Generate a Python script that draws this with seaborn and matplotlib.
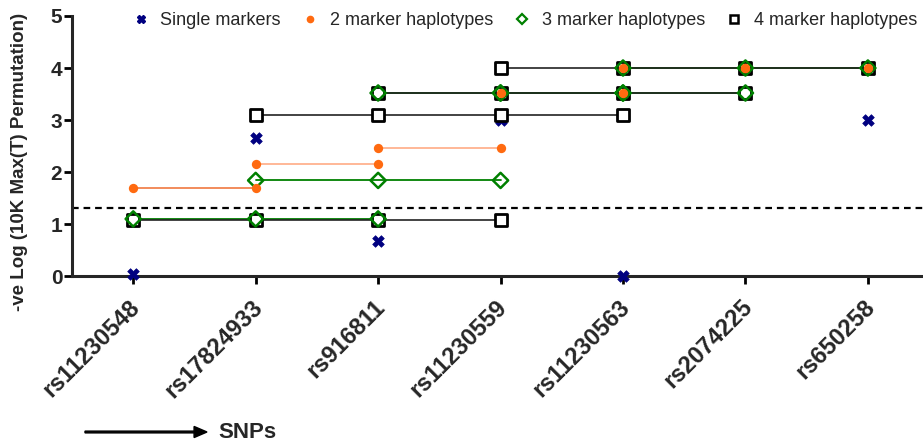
import matplotlib
matplotlib.use("Agg")
import matplotlib.pyplot as plt
import matplotlib.transforms as mtransforms
from matplotlib.lines import Line2D
import pandas as pd
import seaborn as sns

# ---- data ----
snps = ["rs11230548", "rs17824933", "rs916811", "rs11230559",
        "rs11230563", "rs2074225", "rs650258"]
single_markers = [0.05, 2.65, 0.68, 3.00, 0.00, 3.52, 3.00]
hap2_values = [1.69, 2.15, 2.47, 3.52, 4.00, 4.00]   # window start = index
hap3_values = [1.10, 1.84, 3.52, 3.52, 4.00]
hap4_values = [1.07, 3.10, 3.52, 4.00]
threshold = 1.301
series_names = ["Single markers", "2 marker haplotypes",
                "3 marker haplotypes", "4 marker haplotypes"]

sns.set_style("ticks")
plt.rcParams["font.family"] = ["Liberation Sans", "DejaVu Sans"]

rows = []
for k, vals in ((2, hap2_values), (3, hap3_values), (4, hap4_values)):
    for start, v in enumerate(vals):
        for j in range(k):
            rows.append({"pos": start + j, "value": v, "k": k,
                         "hap": f"{k}-{start}"})
hap = pd.DataFrame(rows)
single = pd.DataFrame({"pos": range(len(snps)), "value": single_markers})

fig = plt.figure(figsize=(9.23, 4.44), dpi=100)
ax = fig.add_axes([0.078, 0.378, 0.922, 0.586])

navy = "#000080"
orange = "#ff6a10"
green = "#008000"

# lines
h2 = hap[hap.k == 2]
pal2 = {f"2-{i}": c for i, c in enumerate(
    ["#f07840", "#ffab85", "#ffab85", "#ffab85", "#ffab85", "#ffab85"])}
sns.lineplot(data=h2, x="pos", y="value", hue="hap", palette=pal2,
             units="hap", estimator=None, lw=1.2, legend=False, ax=ax)
sns.lineplot(data=hap[hap.k == 3], x="pos", y="value", units="hap",
             estimator=None, color=green, lw=1.3, legend=False, ax=ax)
sns.lineplot(data=hap[hap.k == 4], x="pos", y="value", units="hap",
             estimator=None, color="#222222", lw=1.2, legend=False, ax=ax)

ax.axhline(threshold, color="black", ls=(0, (3, 2.2)), lw=1.6, zorder=1)

# markers
sns.scatterplot(data=single, x="pos", y="value", marker="X", s=70,
                color=navy, edgecolor=navy, linewidth=0.5, ax=ax, zorder=3,
                clip_on=False)
sns.scatterplot(data=hap[hap.k == 4], x="pos", y="value", marker="s", s=85,
                facecolor="white", edgecolor="black", linewidth=2.0,
                ax=ax, zorder=4)
sns.scatterplot(data=hap[hap.k == 3], x="pos", y="value", marker="D", s=60,
                facecolor="none", edgecolor=green, linewidth=1.8,
                ax=ax, zorder=5)
sns.scatterplot(data=h2, x="pos", y="value", marker="o", s=45,
                color=orange, edgecolor=orange, linewidth=0, ax=ax, zorder=6)

ax.set_xlim(-0.5, 6.45)
ax.set_ylim(0, 5)
ax.set_xticks(range(len(snps)))
ax.set_xticklabels(snps, rotation=45, ha="right", va="top",
                   rotation_mode="anchor", fontsize=17, fontweight="bold")
ax.set_yticks([0, 1, 2, 3, 4, 5])
ax.set_yticklabels(["0", "1", "2", "3", "4", "5"], fontsize=15,
                   fontweight="bold")
ax.set_xlabel("")
ax.set_ylabel("-ve Log (10K Max(T) Permutation)", fontsize=13.5,
              fontweight="bold")
ax.yaxis.set_label_coords(-0.052, 0.44)
sns.despine(ax=ax)
for s in ("left", "bottom"):
    ax.spines[s].set_linewidth(2.2)
ax.tick_params(axis="both", width=2, length=6, color="black")
ax.tick_params(axis="y", pad=1)
ax.tick_params(axis="x", pad=8)

handles = [
    Line2D([], [], ls="none", marker="X", color=navy, ms=6),
    Line2D([], [], ls="none", marker="o", color=orange, ms=4.5),
    Line2D([], [], ls="none", marker="D", mfc="none", mec=green, ms=5.5,
           mew=1.6),
    Line2D([], [], ls="none", marker="s", mfc="white", mec="black", ms=6,
           mew=1.8),
]
ax.legend(handles, series_names, loc="center", ncol=4, frameon=False,
          bbox_to_anchor=(0.568, 0.954), bbox_transform=fig.transFigure,
          fontsize=13, handlelength=1.0, handletextpad=0.6,
          columnspacing=1.1, borderaxespad=0)

fig.patches.append(matplotlib.patches.FancyArrow(
    85 / 923, 1 - 432 / 444, 122 / 923, 0, width=0.004,
    head_width=0.025, head_length=0.014, length_includes_head=True,
    color="black", transform=fig.transFigure))
fig.text(218 / 923, 1 - 432 / 444, "SNPs", fontsize=16, fontweight="bold",
         va="center", ha="left")

fig.canvas.draw()
shift = mtransforms.ScaledTranslation(-5 / 100, 0, fig.dpi_scale_trans)
for tick in ax.xaxis.get_major_ticks():
    tick.label1.set_transform(tick.label1.get_transform() + shift)

fig.savefig("out.png", dpi=100)
